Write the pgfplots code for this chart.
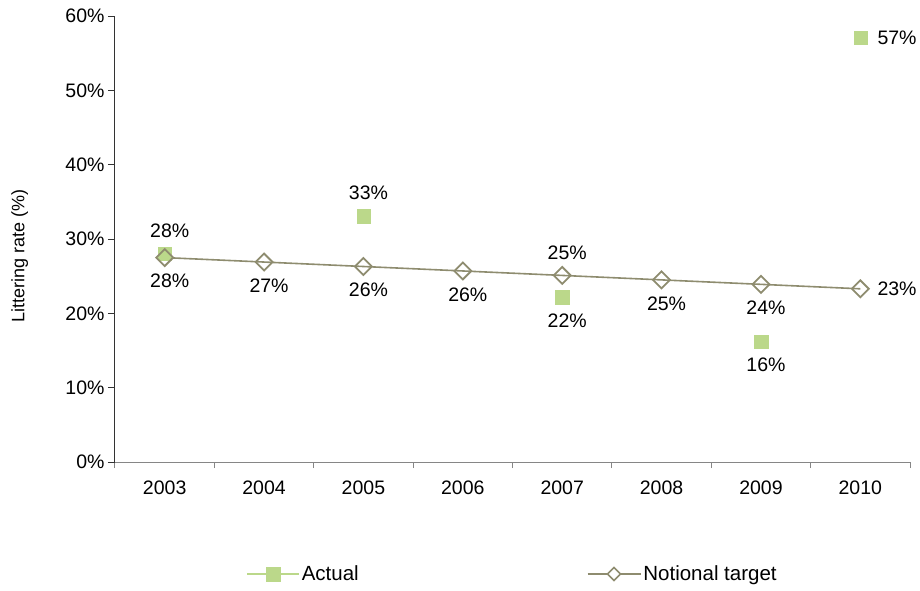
\documentclass[border=0pt]{standalone}
\usepackage{fontspec}
\setmainfont{Liberation Sans}
\usepackage{pgfplots}
\pgfplotsset{compat=1.18}
\definecolor{actgreen}{HTML}{BBD88A}
\definecolor{tgtline}{HTML}{8E8C6F}
\definecolor{xaxgray}{HTML}{868686}
\begin{document}
\begin{tikzpicture}
\path[use as bounding box] (-115pt,-128pt) rectangle (805pt,462pt);
\begin{axis}[
  scale only axis, width=795pt, height=446pt,
  xmin=-0.5, xmax=7.5, ymin=0, ymax=60,
  axis x line*=bottom, axis y line*=left,
  x axis line style={-, draw=xaxgray, line width=1pt},
  y axis line style={-, draw=black!80, line width=1pt},
  /pgf/number format/assume math mode=true,
  tick align=outside,
  major tick length=7pt, minor tick length=6pt,
  xtick={0,...,7},
  xticklabels={2003,2004,2005,2006,2007,2008,2009,2010},
  major x tick style={draw=none},
  minor xtick={-0.5,0.5,1.5,2.5,3.5,4.5,5.5,6.5,7.5},
  minor x tick style={draw=xaxgray, line width=1pt},
  ytick={0,10,...,60},
  yticklabel={\pgfmathprintnumber{\tick}\%},
  y tick style={draw=black!80, line width=1pt},
  ticklabel style={font=\fontsize{19.5}{23}\selectfont, text=black},
  xticklabel style={yshift=-8pt},
  ylabel={Littering rate (\%)},
  ylabel style={font=\fontsize{18}{21}\selectfont, at={(axis description cs:-0.12,0.462)}, anchor=center},
  legend style={at={(0.5,-0.251)}, anchor=center, draw=none, fill=none,
    font=\fontsize{20.5}{24}\selectfont, legend columns=2,
    /tikz/every even column/.append style={column sep=226pt}},
  clip=false,
]
% Actual
\addplot[only marks, mark=square*, mark size=6.7pt, mark options={fill=actgreen, draw=actgreen, line width=0.2pt},
  legend image code/.code={
    \draw[actgreen, line width=1.5pt] (0pt,0pt) -- (52pt,0pt);
    \fill[actgreen] (19pt,-7pt) rectangle (33pt,7pt);}]
  coordinates {(0,28.0) (2,33.1) (4,22.2) (6,16.2) (7,57.1)};
\addlegendentry{Actual}
% Notional target
\addplot[tgtline, line width=1.6pt, mark=square, mark size=6pt,
  mark options={rotate=45, fill=white, draw=tgtline, line width=1.8pt},
  legend image code/.code={
    \draw[tgtline, line width=1.6pt] (0pt,0pt) -- (53pt,0pt);
    \draw[tgtline, fill=white, line width=1.6pt] (26.5pt,-6.5pt) -- (33pt,0pt) -- (26.5pt,6.5pt) -- (20pt,0pt) -- cycle;}]
  coordinates {(0,27.5) (1,26.9) (2,26.3) (3,25.7) (4,25.1) (5,24.5) (6,23.9) (7,23.3)};
\addlegendentry{Notional target}

% Labels: Actual above
\addplot[forget plot, draw=none, mark=none, point meta=explicit symbolic,
  nodes near coords={\pgfplotspointmeta\%},
  nodes near coords style={anchor=south, inner sep=0pt, yshift=16pt, xshift=5pt, font=\fontsize{19.5}{23}\selectfont, text=black}]
  table[meta=l] {
x y l
0 28.0 28
2 33.1 33
};
% Actual below
\addplot[forget plot, draw=none, mark=none, point meta=explicit symbolic,
  nodes near coords={\pgfplotspointmeta\%},
  nodes near coords style={anchor=north, inner sep=0pt, yshift=-16.5pt, xshift=5pt, font=\fontsize{19.5}{23}\selectfont, text=black}]
  table[meta=l] {
x y l
4 22.2 22
6 16.2 16
};
% Actual right
\addplot[forget plot, draw=none, mark=none, point meta=explicit symbolic,
  nodes near coords={\pgfplotspointmeta\%},
  nodes near coords style={anchor=west, inner sep=0pt, xshift=17pt, font=\fontsize{19.5}{23}\selectfont, text=black}]
  table[meta=l] {
x y l
7 57.1 57
};
% Target below
\addplot[forget plot, draw=none, mark=none, point meta=explicit symbolic,
  nodes near coords={\pgfplotspointmeta\%},
  nodes near coords style={anchor=north, inner sep=0pt, yshift=-16.5pt, xshift=5pt, font=\fontsize{19.5}{23}\selectfont, text=black}]
  table[meta=l] {
x y l
0 27.5 28
1 26.9 27
2 26.3 26
3 25.7 26
5 24.5 25
6 23.9 24
};
% Target above
\addplot[forget plot, draw=none, mark=none, point meta=explicit symbolic,
  nodes near coords={\pgfplotspointmeta\%},
  nodes near coords style={anchor=south, inner sep=0pt, yshift=15.5pt, xshift=5pt, font=\fontsize{19.5}{23}\selectfont, text=black}]
  table[meta=l] {
x y l
4 25.1 25
};
% Target right
\addplot[forget plot, draw=none, mark=none, point meta=explicit symbolic,
  nodes near coords={\pgfplotspointmeta\%},
  nodes near coords style={anchor=west, inner sep=0pt, xshift=17pt, font=\fontsize{19.5}{23}\selectfont, text=black}]
  table[meta=l] {
x y l
7 23.3 23
};
\end{axis}
\end{tikzpicture}
\end{document}
